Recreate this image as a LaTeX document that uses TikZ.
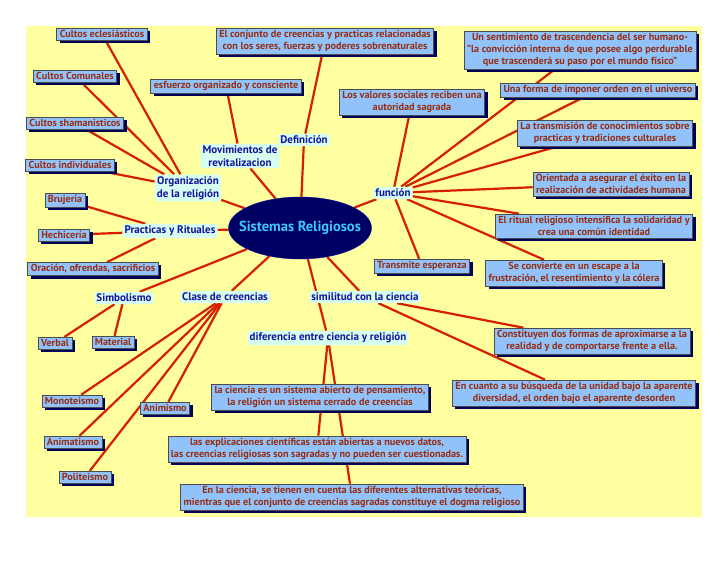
\documentclass[tikz,border=0pt]{standalone}
\usepackage{fontspec}
\setmainfont{PT Sans}[BoldFont={PT Sans Bold}]
\usetikzlibrary{shapes.geometric, shadows, backgrounds}

\definecolor{fondo}{RGB}{255,255,160}
\definecolor{azulcaja}{RGB}{145,195,250}
\definecolor{marron}{RGB}{150,45,20}
\definecolor{sombra}{RGB}{0,0,90}
\definecolor{menta}{RGB}{214,255,240}
\definecolor{azultexto}{RGB}{20,20,160}
\definecolor{marino}{RGB}{0,0,100}
\definecolor{celeste}{RGB}{60,200,255}
\definecolor{rojo}{RGB}{215,30,0}

\begin{document}
\begin{tikzpicture}[
    x=1pt, y=-1pt,
    hoja/.style={draw=black!70, line width=0.6pt, fill=azulcaja, text=marron,
        font=\fontsize{10.2}{12.2}\selectfont\bfseries, align=center,
        inner xsep=3pt, inner ysep=2.2pt,
        drop shadow={shadow xshift=3pt, shadow yshift=-3pt, fill=sombra, opacity=1}},
    rama/.style={fill=menta, text=azultexto, rounded corners=3pt,
        font=\fontsize{11}{12.5}\selectfont\bfseries, align=center, inner sep=2pt},
    centro/.style={ellipse, fill=marino, draw=blue!60!black, inner sep=0pt,
        minimum width=143pt, minimum height=62pt},
    enlace/.style={draw=rojo, line width=2.2pt},
]

% =============================================================================
% Page and background
% =============================================================================
\useasboundingbox (0,0) rectangle (728,563);
\begin{pgfonlayer}{background}
    \fill[white] (0,0) rectangle (728,563);
    \fill[fondo] (26,26) rectangle (702,517);
\end{pgfonlayer}

% Central topic
\node[centro, label={[text=celeste, font=\fontsize{14.5}{16}\selectfont\bfseries]center:Sistemas Religiosos}]
    (sistemas) at (300,228) {};

% =============================================================================
% Branch labels
% =============================================================================
\node[rama] (organiz)    at (188,188) {Organización\\de la religión};
\node[rama] (movim)      at (240,156) {Movimientos de\\revitalizacion};
\node[rama] (defin)      at (304,140) {Definición};
\node[rama] (funcion)    at (393,193) {función};
\node[rama] (practicas)  at (170,231) {Practicas y Rituales};
\node[rama] (simbol)     at (124,298) {Simbolismo};
\node[rama] (clase)      at (225,297) {Clase de creencias};
\node[rama] (similitud)  at (365,297) {similitud con la ciencia};
\node[rama] (diferencia) at (328,338) {diferencia entre ciencia y religión};

% =============================================================================
% Leaf boxes
% =============================================================================
% Organizacion
\node[hoja] (ecles)  at (102,34)  {Cultos eclesiásticos};
\node[hoja] (comun)  at (75,76)   {Cultos Comunales};
\node[hoja] (shaman) at (75,123)  {Cultos shamanisticos};
\node[hoja] (indiv)  at (70,165)  {Cultos individuales};

% Movimientos, definicion
\node[hoja] (esfuerzo) at (226,86) {esfuerzo organizado y consciente};
\node[hoja] (conjunto) at (325,41) {El conjunto de creencias y practicas relacionadas\\con los seres, fuerzas y poderes sobrenaturales};

% Funcion
\node[hoja] (valores)   at (412,102) {Los valores sociales reciben una\\autoridad sagrada};
\node[hoja] (sentim)    at (580,50)  {Un sentimiento de trascendencia del ser humano-\\"la convicción interna de que posee algo perdurable\\que trascenderá su paso por el mundo físico"};
\node[hoja] (orden)     at (598,90)  {Una forma de imponer orden en el universo};
\node[hoja] (transm)    at (605,133) {La transmisión de conocimientos sobre\\practicas y tradiciones culturales};
\node[hoja] (orient)    at (611,184) {Orientada a asegurar el éxito en la\\realización de actividades humana};
\node[hoja] (ritual)    at (594,226) {El ritual religioso intensifica la solidaridad y\\crea una común identidad};
\node[hoja] (escape)    at (574,273) {Se convierte en un escape a la\\frustración, el resentimiento y la cólera};
\node[hoja] (esperanza) at (422,266) {Transmite esperanza};

% Practicas y simbolismo
\node[hoja] (brujeria)   at (65,200)  {Brujería};
\node[hoja] (hechiceria) at (64,235)  {Hechicería};
\node[hoja] (oracion)    at (93,269)  {Oración, ofrendas, sacrificios};
\node[hoja] (verbal)     at (55,343)  {Verbal};
\node[hoja] (material)   at (113,342) {Material};

% Clase de creencias
\node[hoja] (monot)    at (72,401)  {Monoteismo};
\node[hoja] (animismo) at (165,408) {Animismo};
\node[hoja] (animat)   at (73,442)  {Animatismo};
\node[hoja] (polit)    at (85,477)  {Politeismo};

% Ciencia
\node[hoja] (aprox)    at (592,341) {Constituyen dos formas de aproximarse a la\\realidad y de comportarse frente a ella.};
\node[hoja] (busqueda) at (574,393) {En cuanto a su búsqueda de la unidad bajo la aparente\\diversidad, el orden bajo el aparente desorden};
\node[hoja] (abierto)  at (320,397) {la ciencia es un sistema abierto de pensamiento,\\la religión un sistema cerrado de creencias};
\node[hoja] (explic)   at (317,449) {las explicaciones científicas están abiertas a nuevos datos,\\las creencias religiosas son sagradas y no pueden ser cuestionadas.};
\node[hoja] (dogma)    at (352,497) {En la ciencia, se tienen en cuenta las diferentes alternativas teóricas,\\mientras que el conjunto de creencias sagradas constituye el dogma religioso};

% =============================================================================
% Links (behind the boxes)
% =============================================================================
\begin{pgfonlayer}{background}
    \foreach \r in {organiz, movim, defin, funcion, practicas, simbol, clase, similitud, diferencia}
        \draw[enlace] (sistemas) -- (\r);
    \foreach \h in {ecles, comun, shaman, indiv}
        \draw[enlace] (organiz) -- (\h);
    \draw[enlace] (movim) -- (esfuerzo);
    \draw[enlace] (defin) -- (conjunto);
    \foreach \h in {valores, sentim, orden, transm, orient, ritual, escape, esperanza}
        \draw[enlace] (funcion) -- (\h);
    \foreach \h in {brujeria, hechiceria, oracion}
        \draw[enlace] (practicas) -- (\h);
    \foreach \h in {verbal, material}
        \draw[enlace] (simbol) -- (\h);
    \foreach \h in {monot, animismo, animat, polit}
        \draw[enlace] (clase) -- (\h);
    \foreach \h in {aprox, busqueda}
        \draw[enlace] (similitud) -- (\h);
    \foreach \h in {explic, dogma}
        \draw[enlace] (diferencia) -- (\h);
\end{pgfonlayer}

\end{tikzpicture}
\end{document}
